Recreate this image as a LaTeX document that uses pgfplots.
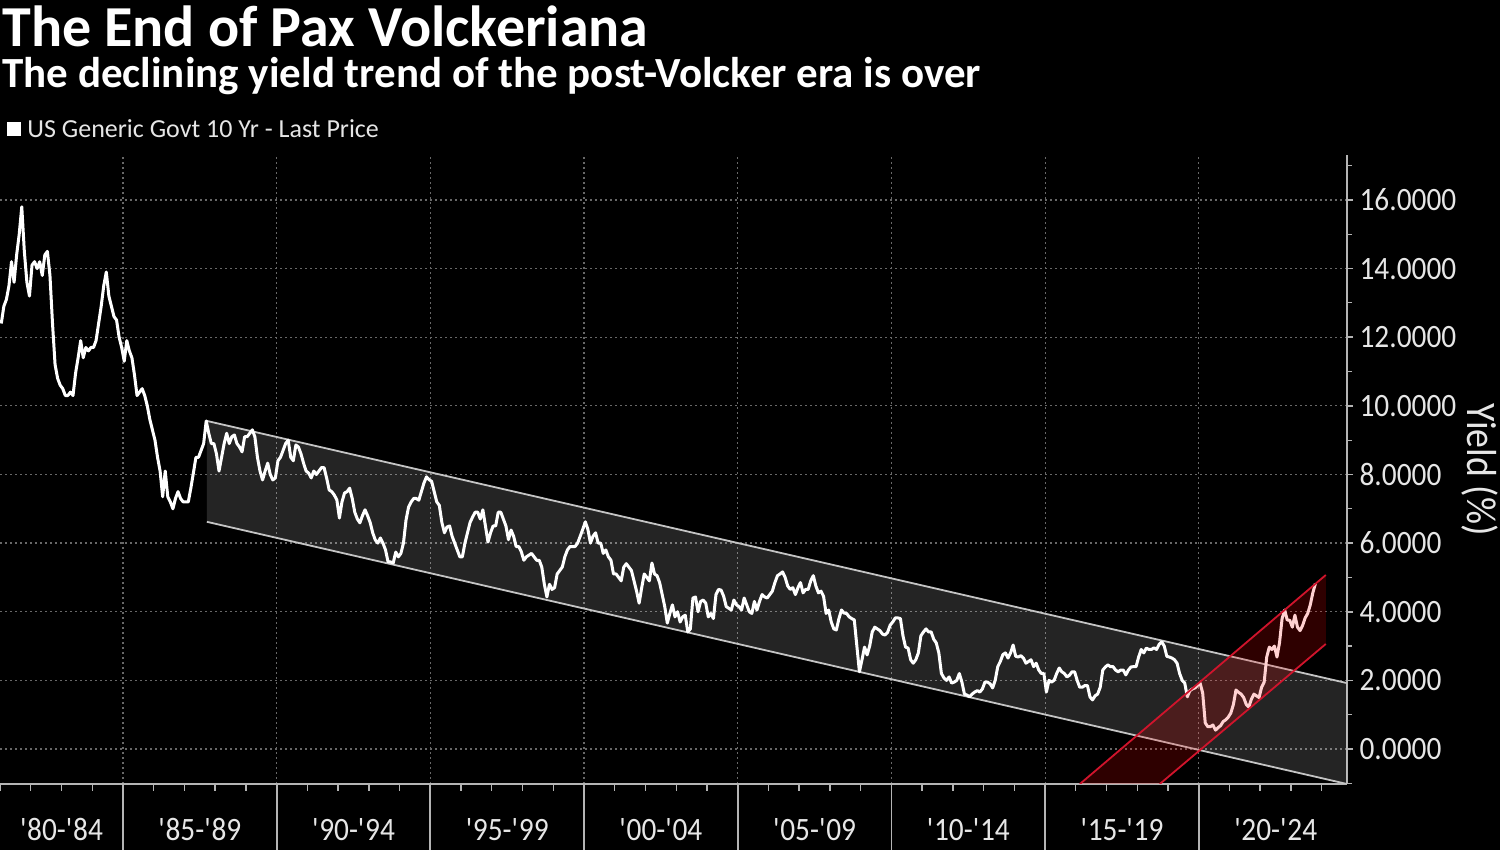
\documentclass[border=0pt]{standalone}
\usepackage{pgfplots}
\pgfplotsset{compat=1.18}
\usepackage{pgfplotstable}
\usepackage{fontspec}
\setmainfont{Carlito}
\newfontfamily\tickfont{Carlito}[FakeStretch=0.9]
\definecolor{gridc}{HTML}{686868}
\definecolor{axc}{HTML}{B4B4B4}
\definecolor{chanline}{HTML}{C4C4C4}
\definecolor{redl}{HTML}{D0142C}
\definecolor{txt}{HTML}{E6E6E6}

\pgfplotstableread[row sep=\\]{
y m v\\
1981 1 12.4\\ 1981 2 12.9\\ 1981 3 13.1\\ 1981 4 13.5\\ 1981 5 14.2\\ 1981 6 13.6\\ 1981 7 14.4\\ 1981 8 15.0\\ 1981 9 15.8\\ 1981 10 14.5\\ 1981 11 13.6\\ 1981 12 13.2\\
1982 1 14.1\\ 1982 2 14.2\\ 1982 3 14.0\\ 1982 4 14.2\\ 1982 5 13.8\\ 1982 6 14.4\\ 1982 7 14.5\\ 1982 8 13.8\\ 1982 9 12.4\\ 1982 10 11.2\\ 1982 11 10.8\\ 1982 12 10.6\\
1983 1 10.5\\ 1983 2 10.3\\ 1983 3 10.3\\ 1983 4 10.4\\ 1983 5 10.3\\ 1983 6 10.95\\ 1983 7 11.4\\ 1983 8 11.9\\ 1983 9 11.4\\ 1983 10 11.7\\ 1983 11 11.6\\ 1983 12 11.7\\
1984 1 11.7\\ 1984 2 11.9\\ 1984 3 12.4\\ 1984 4 12.9\\ 1984 5 13.5\\ 1984 6 13.9\\ 1984 7 13.2\\ 1984 8 12.9\\ 1984 9 12.6\\ 1984 10 12.5\\ 1984 11 12.0\\ 1984 12 11.7\\
1985 1 11.3\\ 1985 2 11.9\\ 1985 3 11.6\\ 1985 4 11.4\\ 1985 5 10.9\\ 1985 6 10.3\\ 1985 7 10.4\\ 1985 8 10.5\\ 1985 9 10.3\\ 1985 10 10.0\\ 1985 11 9.6\\ 1985 12 9.3\\
1986 1 9.0\\ 1986 2 8.5\\ 1986 3 8.1\\ 1986 4 7.35\\ 1986 5 8.1\\ 1986 6 7.35\\ 1986 7 7.2\\ 1986 8 7.0\\ 1986 9 7.3\\ 1986 10 7.5\\ 1986 11 7.3\\ 1986 12 7.2\\
1987 1 7.2\\ 1987 2 7.2\\ 1987 3 7.6\\ 1987 4 8.05\\ 1987 5 8.5\\ 1987 6 8.5\\ 1987 7 8.7\\ 1987 8 8.9\\ 1987 9 9.56\\ 1987 10 9.2\\ 1987 11 8.9\\ 1987 12 8.9\\
1988 1 8.6\\ 1988 2 8.1\\ 1988 3 8.5\\ 1988 4 8.9\\ 1988 5 9.2\\ 1988 6 8.9\\ 1988 7 9.1\\ 1988 8 9.15\\ 1988 9 8.9\\ 1988 10 8.8\\ 1988 11 8.66\\ 1988 12 9.1\\
1989 1 9.1\\ 1989 2 9.2\\ 1989 3 9.3\\ 1989 4 9.1\\ 1989 5 8.5\\ 1989 6 8.1\\ 1989 7 7.84\\ 1989 8 8.1\\ 1989 9 8.33\\ 1989 10 8.0\\ 1989 11 7.84\\ 1989 12 7.9\\
1990 1 8.4\\ 1990 2 8.5\\ 1990 3 8.7\\ 1990 4 8.9\\ 1990 5 9.0\\ 1990 6 8.5\\ 1990 7 8.4\\ 1990 8 8.86\\ 1990 9 8.8\\ 1990 10 8.6\\ 1990 11 8.33\\ 1990 12 8.1\\
1991 1 8.04\\ 1991 2 7.9\\ 1991 3 8.1\\ 1991 4 8.0\\ 1991 5 8.1\\ 1991 6 8.2\\ 1991 7 8.2\\ 1991 8 7.9\\ 1991 9 7.55\\ 1991 10 7.5\\ 1991 11 7.4\\ 1991 12 7.26\\
1992 1 6.73\\ 1992 2 7.2\\ 1992 3 7.46\\ 1992 4 7.5\\ 1992 5 7.6\\ 1992 6 7.3\\ 1992 7 6.9\\ 1992 8 6.7\\ 1992 9 6.59\\ 1992 10 6.8\\ 1992 11 6.97\\ 1992 12 6.8\\
1993 1 6.6\\ 1993 2 6.3\\ 1993 3 6.09\\ 1993 4 6.0\\ 1993 5 6.15\\ 1993 6 6.0\\ 1993 7 5.8\\ 1993 8 5.45\\ 1993 9 5.45\\ 1993 10 5.42\\ 1993 11 5.74\\ 1993 12 5.6\\
1994 1 5.7\\ 1994 2 6.0\\ 1994 3 6.67\\ 1994 4 7.05\\ 1994 5 7.2\\ 1994 6 7.3\\ 1994 7 7.3\\ 1994 8 7.25\\ 1994 9 7.5\\ 1994 10 7.75\\ 1994 11 7.93\\ 1994 12 7.85\\
1995 1 7.8\\ 1995 2 7.5\\ 1995 3 7.2\\ 1995 4 7.1\\ 1995 5 6.6\\ 1995 6 6.3\\ 1995 7 6.47\\ 1995 8 6.5\\ 1995 9 6.2\\ 1995 10 6.0\\ 1995 11 5.8\\ 1995 12 5.6\\
1996 1 5.6\\ 1996 2 6.0\\ 1996 3 6.3\\ 1996 4 6.6\\ 1996 5 6.76\\ 1996 6 6.9\\ 1996 7 6.9\\ 1996 8 6.7\\ 1996 9 6.97\\ 1996 10 6.5\\ 1996 11 6.03\\ 1996 12 6.3\\
1997 1 6.5\\ 1997 2 6.5\\ 1997 3 6.9\\ 1997 4 6.9\\ 1997 5 6.7\\ 1997 6 6.5\\ 1997 7 6.1\\ 1997 8 6.38\\ 1997 9 6.2\\ 1997 10 5.9\\ 1997 11 5.9\\ 1997 12 5.75\\
1998 1 5.5\\ 1998 2 5.6\\ 1998 3 5.65\\ 1998 4 5.7\\ 1998 5 5.6\\ 1998 6 5.5\\ 1998 7 5.5\\ 1998 8 5.3\\ 1998 9 4.8\\ 1998 10 4.43\\ 1998 11 4.8\\ 1998 12 4.65\\
1999 1 4.7\\ 1999 2 5.1\\ 1999 3 5.2\\ 1999 4 5.3\\ 1999 5 5.6\\ 1999 6 5.8\\ 1999 7 5.9\\ 1999 8 5.9\\ 1999 9 5.9\\ 1999 10 6.0\\ 1999 11 6.2\\ 1999 12 6.4\\
2000 1 6.62\\ 2000 2 6.4\\ 2000 3 6.0\\ 2000 4 6.2\\ 2000 5 6.3\\ 2000 6 6.0\\ 2000 7 6.0\\ 2000 8 5.7\\ 2000 9 5.8\\ 2000 10 5.6\\ 2000 11 5.5\\ 2000 12 5.1\\
2001 1 5.1\\ 2001 2 5.0\\ 2001 3 4.9\\ 2001 4 5.3\\ 2001 5 5.4\\ 2001 6 5.3\\ 2001 7 5.2\\ 2001 8 4.9\\ 2001 9 4.6\\ 2001 10 4.25\\ 2001 11 4.7\\ 2001 12 5.1\\
2002 1 5.0\\ 2002 2 4.9\\ 2002 3 5.42\\ 2002 4 5.1\\ 2002 5 5.05\\ 2002 6 4.85\\ 2002 7 4.5\\ 2002 8 4.15\\ 2002 9 3.67\\ 2002 10 3.95\\ 2002 11 4.2\\ 2002 12 3.85\\
2003 1 4.0\\ 2003 2 3.7\\ 2003 3 3.85\\ 2003 4 3.9\\ 2003 5 3.41\\ 2003 6 3.5\\ 2003 7 4.4\\ 2003 8 4.43\\ 2003 9 4.0\\ 2003 10 4.3\\ 2003 11 4.34\\ 2003 12 4.25\\
2004 1 3.85\\ 2004 2 3.95\\ 2004 3 3.8\\ 2004 4 4.5\\ 2004 5 4.65\\ 2004 6 4.63\\ 2004 7 4.45\\ 2004 8 4.15\\ 2004 9 4.1\\ 2004 10 4.05\\ 2004 11 4.34\\ 2004 12 4.2\\
2005 1 4.15\\ 2005 2 4.05\\ 2005 3 4.4\\ 2005 4 4.2\\ 2005 5 4.0\\ 2005 6 3.95\\ 2005 7 4.3\\ 2005 8 4.05\\ 2005 9 4.3\\ 2005 10 4.5\\ 2005 11 4.43\\ 2005 12 4.4\\
2006 1 4.5\\ 2006 2 4.6\\ 2006 3 4.85\\ 2006 4 5.05\\ 2006 5 5.1\\ 2006 6 5.16\\ 2006 7 5.0\\ 2006 8 4.75\\ 2006 9 4.65\\ 2006 10 4.7\\ 2006 11 4.5\\ 2006 12 4.7\\
2007 1 4.85\\ 2007 2 4.55\\ 2007 3 4.65\\ 2007 4 4.65\\ 2007 5 4.9\\ 2007 6 5.05\\ 2007 7 4.75\\ 2007 8 4.55\\ 2007 9 4.6\\ 2007 10 4.45\\ 2007 11 3.95\\ 2007 12 4.05\\
2008 1 3.7\\ 2008 2 3.5\\ 2008 3 3.47\\ 2008 4 3.8\\ 2008 5 4.05\\ 2008 6 3.96\\ 2008 7 3.95\\ 2008 8 3.85\\ 2008 9 3.8\\ 2008 10 3.76\\ 2008 11 3.0\\ 2008 12 2.25\\
2009 1 2.6\\ 2009 2 2.97\\ 2009 3 2.74\\ 2009 4 3.0\\ 2009 5 3.41\\ 2009 6 3.55\\ 2009 7 3.5\\ 2009 8 3.45\\ 2009 9 3.35\\ 2009 10 3.32\\ 2009 11 3.4\\ 2009 12 3.61\\
2010 1 3.7\\ 2010 2 3.82\\ 2010 3 3.82\\ 2010 4 3.8\\ 2010 5 3.3\\ 2010 6 2.97\\ 2010 7 2.94\\ 2010 8 2.6\\ 2010 9 2.5\\ 2010 10 2.6\\ 2010 11 2.8\\ 2010 12 3.3\\
2011 1 3.41\\ 2011 2 3.5\\ 2011 3 3.41\\ 2011 4 3.41\\ 2011 5 3.2\\ 2011 6 3.09\\ 2011 7 2.8\\ 2011 8 2.2\\ 2011 9 2.07\\ 2011 10 2.0\\ 2011 11 2.1\\ 2011 12 1.92\\
2012 1 1.95\\ 2012 2 2.0\\ 2012 3 2.2\\ 2012 4 1.95\\ 2012 5 1.6\\ 2012 6 1.57\\ 2012 7 1.52\\ 2012 8 1.6\\ 2012 9 1.66\\ 2012 10 1.7\\ 2012 11 1.66\\ 2012 12 1.75\\
2013 1 1.95\\ 2013 2 1.95\\ 2013 3 1.9\\ 2013 4 1.78\\ 2013 5 2.0\\ 2013 6 2.4\\ 2013 7 2.55\\ 2013 8 2.75\\ 2013 9 2.8\\ 2013 10 2.65\\ 2013 11 2.8\\ 2013 12 3.03\\
2014 1 2.7\\ 2014 2 2.68\\ 2014 3 2.72\\ 2014 4 2.65\\ 2014 5 2.5\\ 2014 6 2.55\\ 2014 7 2.6\\ 2014 8 2.4\\ 2014 9 2.5\\ 2014 10 2.3\\ 2014 11 2.2\\ 2014 12 2.2\\
2015 1 1.66\\ 2015 2 2.0\\ 2015 3 1.95\\ 2015 4 2.0\\ 2015 5 2.2\\ 2015 6 2.36\\ 2015 7 2.25\\ 2015 8 2.2\\ 2015 9 2.1\\ 2015 10 2.15\\ 2015 11 2.25\\ 2015 12 2.25\\
2016 1 2.0\\ 2016 2 1.8\\ 2016 3 1.8\\ 2016 4 1.85\\ 2016 5 1.85\\ 2016 6 1.52\\ 2016 7 1.43\\ 2016 8 1.55\\ 2016 9 1.6\\ 2016 10 1.8\\ 2016 11 2.3\\ 2016 12 2.39\\
2017 1 2.45\\ 2017 2 2.4\\ 2017 3 2.4\\ 2017 4 2.3\\ 2017 5 2.25\\ 2017 6 2.3\\ 2017 7 2.3\\ 2017 8 2.16\\ 2017 9 2.3\\ 2017 10 2.39\\ 2017 11 2.4\\ 2017 12 2.4\\
2018 1 2.68\\ 2018 2 2.9\\ 2018 3 2.8\\ 2018 4 2.94\\ 2018 5 2.9\\ 2018 6 2.9\\ 2018 7 2.95\\ 2018 8 2.9\\ 2018 9 3.05\\ 2018 10 3.12\\ 2018 11 3.0\\ 2018 12 2.7\\
2019 1 2.68\\ 2019 2 2.65\\ 2019 3 2.6\\ 2019 4 2.5\\ 2019 5 2.2\\ 2019 6 2.0\\ 2019 7 1.92\\ 2019 8 1.52\\ 2019 9 1.7\\ 2019 10 1.75\\ 2019 11 1.78\\ 2019 12 1.85\\
2020 1 1.92\\ 2020 2 1.63\\ 2020 3 0.76\\ 2020 4 0.65\\ 2020 5 0.65\\ 2020 6 0.7\\ 2020 7 0.55\\ 2020 8 0.62\\ 2020 9 0.68\\ 2020 10 0.8\\ 2020 11 0.85\\ 2020 12 0.93\\
2021 1 1.05\\ 2021 2 1.3\\ 2021 3 1.72\\ 2021 4 1.65\\ 2021 5 1.6\\ 2021 6 1.5\\ 2021 7 1.3\\ 2021 8 1.22\\ 2021 9 1.45\\ 2021 10 1.6\\ 2021 11 1.55\\ 2021 12 1.5\\
2022 1 1.8\\ 2022 2 1.95\\ 2022 3 2.68\\ 2022 4 2.97\\ 2022 5 2.9\\ 2022 6 3.0\\ 2022 7 2.68\\ 2022 8 3.1\\ 2022 9 3.8\\ 2022 10 4.05\\ 2022 11 3.76\\ 2022 12 3.75\\
2023 1 3.55\\ 2023 2 3.9\\ 2023 3 3.55\\ 2023 4 3.45\\ 2023 5 3.6\\ 2023 6 3.82\\ 2023 7 3.95\\ 2023 8 4.2\\ 2023 9 4.55\\ 2023 10 4.82\\
}\yields

\begin{document}
\begin{tikzpicture}[x=1pt,y=1pt]
\fill[black] (0,0) rectangle (750,425);
\useasboundingbox (0,0) rectangle (750,425);
\node[anchor=base west, inner sep=0, text=white, font=\fontsize{29}{34}\selectfont\bfseries] at (1,401.5) {The End of Pax Volckeriana};
\node[anchor=base west, inner sep=0, text=white, font=\fontsize{21.5}{25}\selectfont\bfseries] at (1,381) {The declining yield trend of the post-Volcker era is over};
\fill[white] (3.5,357) rectangle (10.5,364);
\node[anchor=base west, inner sep=0, text=txt, font=\fontsize{13}{15}\selectfont] at (13.5,356) {US Generic Govt 10 Yr - Last Price};
\begin{axis}[
  at={(0pt,33pt)}, anchor=south west,
  scale only axis, width=673.5pt, height=314.5pt,
  xmin=1981, xmax=2024.82, ymin=-1.02, ymax=17.31,
  clip mode=individual,
  axis x line*=bottom, axis y line*=right,
  x axis line style={-, axc, line width=1.4pt},
  y axis line style={-, axc, line width=1pt},
  tick align=outside,
  xtick={1985,1990,...,2020}, xticklabels={},
  x tick style={draw=axc, line width=0.9pt, /pgfplots/major tick length=33pt},
  minor xtick={1981,...,2024},
  minor x tick style={draw=axc, line width=0.7pt, /pgfplots/minor tick length=3.5pt},
  xmajorgrids, ymajorgrids,
  major grid style={gridc, line width=0.6pt, dash pattern=on 0.8pt off 1.7pt},
  ytick={0,2,...,16},
  minor ytick={-1,1,...,17},
  y tick style={draw=axc, line width=0.8pt, /pgfplots/major tick length=3pt},
  minor y tick style={draw=axc, line width=0.6pt, /pgfplots/minor tick length=2.5pt},
  ticklabel style={font=\tickfont\fontsize{16.3}{18}\selectfont, text=txt},
  /pgf/number format/assume math mode=true,
  yticklabel style={/pgf/number format/fixed, /pgf/number format/fixed zerofill, /pgf/number format/precision=4, anchor=west, xshift=-1.5pt},
  ylabel={Yield (\%)},
  every axis y label/.style={at={(rel axis cs:1,0.5)}, anchor=center, xshift=66.5pt, rotate=-90, font=\tickfont\fontsize{21}{24}\selectfont, text=txt},
]
\addplot[fill=white, fill opacity=0.14, draw=none] coordinates {(1987.73,9.56) (2024.82,1.92) (2024.82,-1.02) (1987.73,6.62)} -- cycle;
\addplot[chanline, line width=0.9pt] coordinates {(1987.73,9.56) (2024.82,1.92)};
\addplot[chanline, line width=0.9pt] coordinates {(1987.73,6.62) (2024.82,-1.02)};
\addplot[white, line width=1.5pt, line join=round] table[x expr=\thisrow{y}+(\thisrow{m}-0.5)/12, y=v] {\yields};
\addplot[fill=red, fill opacity=0.18, draw=none] coordinates {(2016.13,-1.02) (2024.13,5.07) (2024.13,3.06) (2018.73,-1.02)} -- cycle;
\addplot[redl, line width=0.9pt] coordinates {(2016.13,-1.02) (2024.13,5.07)};
\addplot[redl, line width=0.9pt] coordinates {(2018.73,-1.02) (2024.13,3.06)};
\foreach \c/\l in {1983/80-{\textquotesingle}84, 1987.5/85-{\textquotesingle}89, 1992.5/90-{\textquotesingle}94, 1997.5/95-{\textquotesingle}99, 2002.5/00-{\textquotesingle}04, 2007.5/05-{\textquotesingle}09, 2012.5/10-{\textquotesingle}14, 2017.5/15-{\textquotesingle}19, 2022.5/20-{\textquotesingle}24}{
  \edef\temp{\noexpand\node[anchor=base, inner sep=0, text=txt, font=\noexpand\tickfont\noexpand\fontsize{16.3}{18}\noexpand\selectfont] at (axis cs:\c,-1.02) [yshift=-28.5pt] {{\noexpand\textquotesingle}\unexpanded\expandafter{\l}};}
  \temp
}
\end{axis}
\end{tikzpicture}
\end{document}
